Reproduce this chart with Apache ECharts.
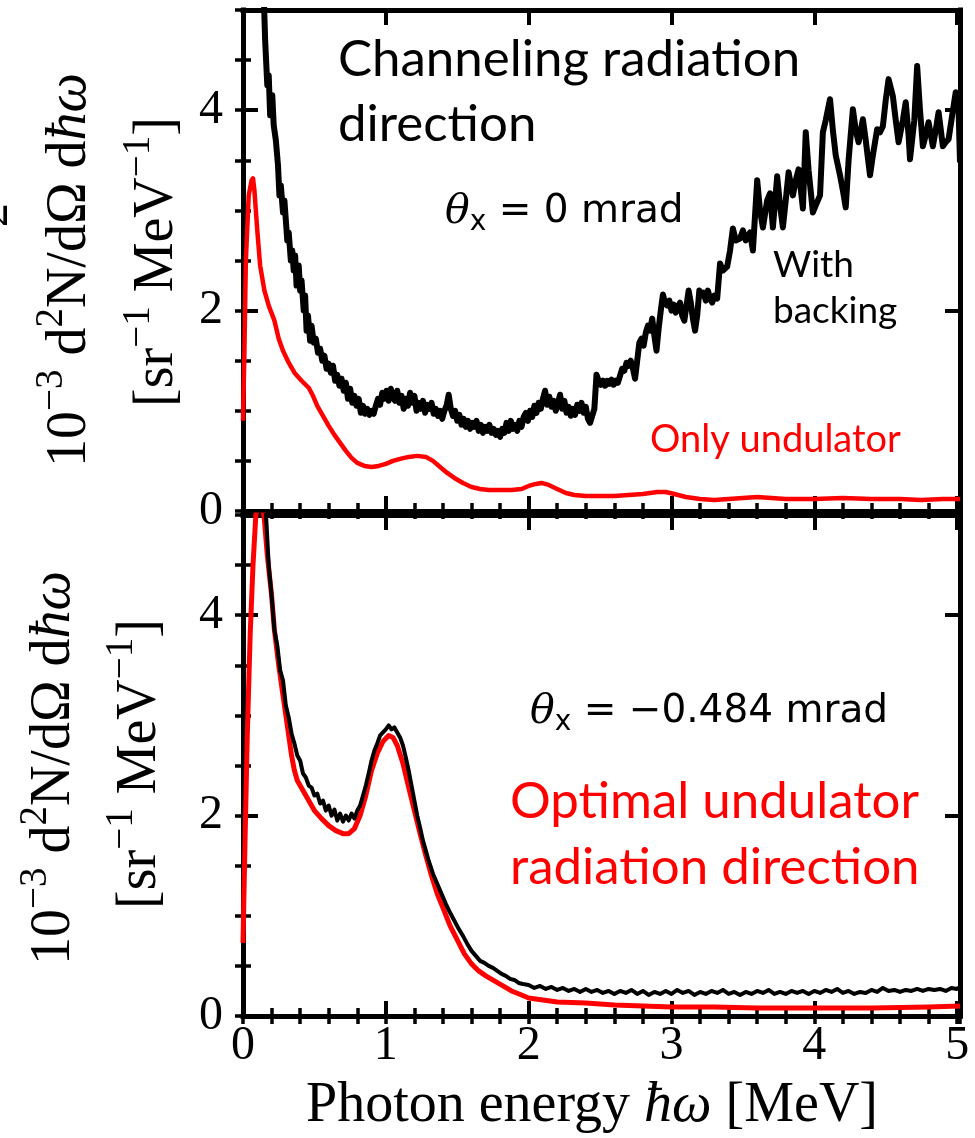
<!DOCTYPE html>
<html>
<head>
<meta charset="utf-8">
<script src="https://cdn.jsdelivr.net/npm/echarts@6/dist/echarts.min.js"></script>
<style>
html,body{margin:0;padding:0;background:#fff;}
#chart{width:975px;height:1138px;}
</style>
</head>
<body>
<div id="chart"></div>
<script>
// ---------- axis settings ----------
const X_MIN = 0, X_MAX = 5.02;
const Y_MIN = 0, Y_MAX = 5;
const xMajorStep = 1, xMinorStep = 0.2;
const yMajorStep = 2, yMinorStep = 0.5;
const xTickLabels = ['0', '1', '2', '3', '4', '5'];
const yTickLabels = ['0', '2', '4'];

// ---------- top panel: theta_x = 0 mrad ----------
const topOnlyUndulator = [
  [0.0,0.9],[0.01,1.6],[0.02,2.5],[0.04,3.15],[0.06,3.3],[0.07,3.32],[0.08,3.2],[0.10,2.8],[0.12,2.45],
  [0.15,2.2],[0.18,2.05],[0.22,1.9],[0.25,1.72],[0.28,1.6],[0.32,1.48],[0.36,1.38],[0.41,1.3],[0.46,1.23],
  [0.49,1.15],[0.52,1.05],[0.56,0.95],[0.60,0.85],[0.64,0.76],[0.68,0.68],[0.72,0.6],[0.76,0.53],[0.80,0.48],
  [0.85,0.45],[0.90,0.44],[0.95,0.45],[1.0,0.47],[1.05,0.5],[1.10,0.52],[1.16,0.54],[1.22,0.55],[1.28,0.54],
  [1.33,0.5],[1.38,0.44],[1.43,0.38],[1.48,0.33],[1.54,0.28],[1.60,0.24],[1.66,0.22],[1.72,0.21],[1.80,0.21],
  [1.88,0.21],[1.95,0.22],[2.0,0.25],[2.05,0.27],[2.09,0.28],[2.14,0.26],[2.2,0.22],[2.26,0.18],[2.32,0.16],
  [2.4,0.15],[2.5,0.15],[2.6,0.15],[2.7,0.16],[2.8,0.17],[2.9,0.19],[2.96,0.19],[3.02,0.17],[3.1,0.14],
  [3.2,0.12],[3.3,0.11],[3.4,0.12],[3.5,0.13],[3.6,0.14],[3.7,0.13],[3.8,0.12],[4.0,0.12],[4.2,0.13],
  [4.4,0.12],[4.6,0.12],[4.75,0.11],[4.9,0.12],[5.02,0.12]
];
const topWithBacking = [
  [0.14,5.4],[0.155,4.7],[0.17,4.25],[0.18,4.35],[0.19,3.95],[0.205,4.15],[0.215,3.85],[0.23,3.7],[0.245,3.45],
  [0.255,3.15],[0.265,3.25],[0.28,2.98],[0.29,3.1],[0.30,2.9],[0.31,2.7],[0.32,2.78],[0.335,2.5],[0.345,2.6],
  [0.355,2.4],[0.365,2.55],[0.375,2.25],[0.39,2.45],[0.40,2.2],[0.41,2.3],[0.425,2.0],[0.435,2.15],[0.445,1.8],
  [0.455,1.95],[0.47,1.7],[0.48,1.85],[0.495,1.68],[0.51,1.72],[0.525,1.58],[0.54,1.62],[0.555,1.5],[0.57,1.55],
  [0.585,1.42],[0.60,1.47],[0.615,1.38],[0.63,1.45],[0.645,1.3],[0.66,1.36],[0.675,1.25],[0.69,1.32],[0.705,1.2],
  [0.72,1.28],[0.735,1.12],[0.75,1.22],[0.765,1.08],[0.78,1.15],[0.795,1.05],[0.81,1.12],[0.825,0.98],[0.84,1.05],
  [0.855,0.97],[0.87,1.02],[0.885,0.96],[0.90,1.0],[0.915,0.97],[0.93,1.05],[0.945,1.12],[0.96,1.06],[0.975,1.18],
  [0.99,1.12],[1.005,1.2],[1.02,1.1],[1.035,1.22],[1.05,1.14],[1.065,1.1],[1.08,1.2],[1.095,1.08],[1.11,1.15],
  [1.125,1.02],[1.14,1.12],[1.155,1.05],[1.17,1.18],[1.185,1.08],[1.20,1.15],[1.215,1.0],[1.23,1.08],[1.245,1.02],
  [1.26,1.1],[1.275,0.98],[1.29,1.06],[1.305,1.02],[1.32,1.08],[1.335,0.97],[1.35,1.02],[1.365,0.95],[1.38,1.0],
  [1.395,0.92],[1.41,1.0],[1.425,1.05],[1.44,1.16],[1.455,1.02],[1.47,0.95],[1.485,1.0],[1.50,0.9],[1.515,0.96],
  [1.53,0.86],[1.545,0.92],[1.56,0.84],[1.575,0.9],[1.59,0.82],[1.605,0.88],[1.62,0.84],[1.635,0.9],[1.65,0.8],
  [1.665,0.86],[1.68,0.78],[1.695,0.84],[1.71,0.8],[1.725,0.86],[1.74,0.78],[1.755,0.82],[1.77,0.76],[1.785,0.8],
  [1.80,0.74],[1.815,0.82],[1.83,0.78],[1.845,0.88],[1.86,0.8],[1.875,0.9],[1.89,0.82],[1.905,0.86],[1.92,0.8],
  [1.935,0.9],[1.95,0.84],[1.965,0.94],[1.98,0.98],[1.995,0.9],[2.01,1.0],[2.025,0.94],[2.04,1.05],[2.055,0.98],
  [2.07,1.08],[2.085,1.02],[2.10,1.12],[2.115,1.2],[2.13,1.06],[2.145,1.14],[2.16,1.04],[2.175,1.1],[2.19,1.0],
  [2.205,1.08],[2.22,1.16],[2.235,1.02],[2.25,1.1],[2.265,0.98],[2.28,1.04],[2.295,0.95],[2.31,1.02],[2.325,0.96],
  [2.34,1.06],[2.355,1.0],[2.37,1.08],[2.385,0.98],[2.40,1.04],[2.415,0.92],[2.43,0.88],[2.445,0.95],[2.46,1.02],
  [2.475,1.36],[2.49,1.3],[2.505,1.26],[2.52,1.3],[2.535,1.25],[2.55,1.3],[2.565,1.27],[2.58,1.31],[2.595,1.26],
  [2.61,1.3],[2.625,1.28],[2.64,1.35],[2.655,1.42],[2.67,1.4],[2.685,1.48],[2.70,1.45],[2.715,1.5],[2.73,1.42],
  [2.745,1.32],[2.76,1.5],[2.775,1.68],[2.79,1.72],[2.805,1.65],[2.82,1.78],[2.835,1.85],[2.85,1.8],[2.865,1.92],
  [2.88,1.75],[2.895,1.6],[2.91,1.82],[2.925,2.0],[2.94,2.16],[2.955,2.08],[2.97,2.05],[2.985,2.1],[3.00,2.0],
  [3.015,2.06],[3.03,1.98],[3.045,2.04],[3.06,2.08],[3.075,1.95],[3.09,1.9],[3.105,2.05],[3.12,2.2],[3.135,2.08],
  [3.15,1.92],[3.165,1.8],[3.18,1.95],[3.195,2.2],[3.21,2.15],[3.225,2.18],[3.24,2.1],[3.255,2.2],[3.27,2.12],
  [3.285,2.08],[3.30,2.15],[3.32,2.12],[3.34,2.47],[3.36,2.4],[3.39,2.44],[3.41,2.6],[3.43,2.82],[3.45,2.7],
  [3.48,2.72],[3.50,2.8],[3.52,2.7],[3.55,2.78],[3.57,2.6],[3.60,3.3],[3.62,3.0],[3.64,2.83],[3.67,3.1],
  [3.69,3.17],[3.71,2.83],[3.74,3.34],[3.76,3.05],[3.78,2.83],[3.80,3.1],[3.82,3.38],[3.85,3.15],[3.87,3.3],
  [3.89,3.41],[3.92,3.02],[3.94,3.78],[3.96,3.4],[3.99,2.98],[4.01,3.05],[4.04,3.15],[4.06,3.78],[4.08,3.9],
  [4.11,4.11],[4.13,3.8],[4.15,3.55],[4.18,3.35],[4.20,3.2],[4.22,3.03],[4.24,3.5],[4.27,4.01],[4.29,3.8],
  [4.31,3.68],[4.34,3.91],[4.36,3.7],[4.39,3.35],[4.41,3.55],[4.44,3.81],[4.46,3.78],[4.48,3.84],[4.50,4.1],
  [4.52,4.31],[4.55,4.14],[4.57,3.9],[4.59,3.68],[4.62,3.9],[4.64,4.08],[4.66,3.75],[4.67,3.51],[4.70,3.9],
  [4.72,4.44],[4.74,4.0],[4.76,3.64],[4.78,3.75],[4.80,3.88],[4.83,3.64],[4.85,3.8],[4.87,3.98],[4.90,3.64],
  [4.92,3.68],[4.94,3.71],[4.96,3.9],[4.99,4.18],[5.01,4.01],[5.02,3.48]
];

// ---------- bottom panel: theta_x = -0.484 mrad ----------
const bottomOnlyUndulator = [
  [0.0,0.73],[0.015,1.8],[0.03,2.8],[0.05,3.8],[0.07,4.5],[0.09,5.0],[0.11,5.15],[0.13,5.15],[0.15,4.95],
  [0.17,4.6],[0.20,4.2],[0.22,3.85],[0.25,3.5],[0.27,3.3],[0.30,3.0],[0.32,2.8],[0.34,2.6],[0.36,2.45],
  [0.38,2.35],[0.42,2.25],[0.46,2.15],[0.50,2.05],[0.55,1.97],[0.60,1.9],[0.65,1.85],[0.70,1.82],[0.74,1.82],
  [0.78,1.87],[0.82,2.0],[0.86,2.2],[0.90,2.45],[0.94,2.62],[0.98,2.74],[1.02,2.8],[1.05,2.78],[1.08,2.7],
  [1.12,2.52],[1.16,2.28],[1.20,2.05],[1.24,1.82],[1.28,1.6],[1.32,1.4],[1.36,1.22],[1.40,1.08],[1.45,0.9],
  [1.50,0.76],[1.55,0.62],[1.60,0.52],[1.65,0.45],[1.70,0.4],[1.76,0.35],[1.82,0.3],[1.88,0.25],[1.95,0.21],
  [2.0,0.18],[2.1,0.16],[2.2,0.14],[2.4,0.13],[2.6,0.11],[2.8,0.10],[3.0,0.09],[3.3,0.09],[3.6,0.08],
  [4.0,0.08],[4.4,0.08],[4.8,0.09],[5.02,0.10]
];
const bottomWithBacking = [
  [0.15,5.3],[0.18,4.5],[0.20,4.2],[0.22,3.85],[0.24,3.7],[0.26,3.45],[0.28,3.35],[0.30,3.1],[0.32,2.98],
  [0.34,2.82],[0.36,2.72],[0.38,2.6],[0.40,2.55],[0.42,2.42],[0.44,2.38],[0.46,2.3],[0.48,2.28],[0.50,2.2],
  [0.52,2.22],[0.54,2.12],[0.56,2.15],[0.58,2.05],[0.60,2.1],[0.62,2.0],[0.64,2.06],[0.66,1.95],[0.68,2.02],
  [0.70,1.94],[0.72,2.0],[0.74,1.95],[0.76,2.02],[0.78,1.97],[0.80,2.05],[0.82,2.1],[0.84,2.2],[0.86,2.3],
  [0.88,2.42],[0.90,2.55],[0.92,2.65],[0.94,2.72],[0.96,2.8],[0.98,2.83],[1.0,2.86],[1.02,2.9],[1.04,2.86],
  [1.06,2.88],[1.08,2.83],[1.10,2.78],[1.12,2.7],[1.14,2.58],[1.16,2.45],[1.18,2.3],[1.20,2.15],[1.22,2.0],
  [1.24,1.88],[1.26,1.75],[1.28,1.65],[1.30,1.55],[1.33,1.42],[1.36,1.32],[1.39,1.22],[1.42,1.12],[1.45,1.03],
  [1.48,0.95],[1.51,0.87],[1.54,0.8],[1.57,0.72],[1.60,0.65],[1.63,0.6],[1.66,0.55],[1.69,0.53],[1.72,0.5],
  [1.75,0.48],[1.78,0.45],[1.81,0.42],[1.84,0.40],[1.87,0.37],[1.90,0.36],[1.93,0.33],[1.96,0.32],
  [2.00,0.31],[2.04,0.28],[2.08,0.30],[2.12,0.27],[2.16,0.29],[2.20,0.26],[2.24,0.28],[2.28,0.25],[2.32,0.27],
  [2.36,0.24],[2.40,0.27],[2.44,0.24],[2.48,0.26],[2.52,0.23],[2.56,0.25],[2.60,0.22],[2.64,0.25],[2.68,0.23],
  [2.72,0.26],[2.76,0.22],[2.80,0.25],[2.84,0.21],[2.88,0.24],[2.92,0.22],[2.96,0.25],[3.00,0.22],[3.04,0.26],
  [3.08,0.23],[3.12,0.25],[3.16,0.21],[3.20,0.24],[3.24,0.22],[3.28,0.25],[3.32,0.23],[3.36,0.26],[3.40,0.22],
  [3.44,0.24],[3.48,0.21],[3.52,0.24],[3.56,0.22],[3.60,0.25],[3.64,0.23],[3.68,0.26],[3.72,0.22],[3.76,0.24],
  [3.80,0.22],[3.84,0.25],[3.88,0.23],[3.92,0.25],[3.96,0.22],[4.00,0.25],[4.04,0.23],[4.08,0.26],[4.12,0.24],
  [4.16,0.27],[4.20,0.23],[4.24,0.25],[4.28,0.22],[4.32,0.24],[4.36,0.23],[4.40,0.26],[4.44,0.24],[4.48,0.28],
  [4.52,0.25],[4.56,0.26],[4.60,0.24],[4.64,0.26],[4.68,0.25],[4.72,0.27],[4.76,0.25],[4.80,0.27],[4.84,0.26],
  [4.88,0.27],[4.92,0.25],[4.96,0.28],[5.00,0.27],[5.02,0.29]
];

// ---------- build chart ----------
const BLACK = '#000000', RED = '#ff0000';
const SERIF = 'Liberation Serif';
const grids = [
  {left: 243, top: 10, width: 717, height: 501},
  {left: 243, top: 515, width: 717, height: 501}
];

function lineAxis(show) {
  return {show: show, onZero: false, lineStyle: {color: BLACK, width: 5, cap: 'square'}};
}
function majorTick() { return {show: true, inside: true, length: 15, lineStyle: {color: BLACK, width: 4}}; }
function minorTickS() { return {show: true, inside: true, length: 8, lineStyle: {color: BLACK, width: 3.5}}; }

function xAxesFor(g, withLabels) {
  const base = {gridIndex: g, type: 'value', min: X_MIN, max: X_MAX, splitLine: {show: false}};
  return [
    Object.assign({}, base, {position: 'bottom', interval: xMajorStep, axisLine: lineAxis(true), axisTick: majorTick(),
      axisLabel: {show: withLabels, margin: 6, fontFamily: SERIF, fontSize: 48, color: BLACK,
        formatter: v => { const s = String(Math.round(v)); return (Math.abs(v - Math.round(v)) < 1e-6 && xTickLabels.includes(s)) ? s : ''; }}}),
    Object.assign({}, base, {position: 'bottom', interval: xMinorStep, axisLine: {show: false}, axisTick: minorTickS(), axisLabel: {show: false}}),
    Object.assign({}, base, {position: 'top', interval: xMajorStep, axisLine: lineAxis(true), axisTick: majorTick(), axisLabel: {show: false}}),
    Object.assign({}, base, {position: 'top', interval: xMinorStep, axisLine: {show: false}, axisTick: minorTickS(), axisLabel: {show: false}})
  ];
}
function yAxesFor(g) {
  const base = {gridIndex: g, type: 'value', min: Y_MIN, max: Y_MAX, splitLine: {show: false}};
  return [
    Object.assign({}, base, {position: 'left', interval: yMajorStep, axisLine: lineAxis(true), axisTick: majorTick(),
      axisLabel: {show: true, margin: 20, fontFamily: SERIF, fontSize: 48, color: BLACK,
        formatter: v => { const s = String(Math.round(v)); return yTickLabels.includes(s) && Math.abs(v - Math.round(v)) < 1e-6 ? s : ''; }}}),
    Object.assign({}, base, {position: 'left', interval: yMinorStep, axisLine: {show: false}, axisTick: minorTickS(), axisLabel: {show: false}}),
    Object.assign({}, base, {position: 'right', interval: yMajorStep, axisLine: lineAxis(true), axisTick: majorTick(), axisLabel: {show: false}}),
    Object.assign({}, base, {position: 'right', interval: yMinorStep, axisLine: {show: false}, axisTick: minorTickS(), axisLabel: {show: false}})
  ];
}

function lineSeries(data, g, color, width, z) {
  return {type: 'line', xAxisIndex: g * 4, yAxisIndex: g * 4, data: data, showSymbol: false, symbol: 'none',
    clip: true, smooth: false, z: z, animation: false,
    lineStyle: {color: color, width: width, join: 'round'}};
}

const supStyle = {fontFamily: SERIF, fontSize: 39, lineHeight: 39, verticalAlign: 'top', fill: BLACK};
const mainStyle = {fontFamily: SERIF, fontSize: 56, lineHeight: 76, fill: BLACK};
const italStyle = {fontFamily: SERIF, fontSize: 56, lineHeight: 76, fontStyle: 'italic', fill: BLACK};
const yRich = {n: mainStyle, s: supStyle, i: italStyle};
const yLine1 = '{n|10}{s|−3}{n| d}{s|2}{n|N/dΩ d}{i|ħω}';
const yLine2 = '{n|[sr}{s|−1}{n| MeV}{s|−1}{n|]}';

function rotText(x, y, text) {
  return {type: 'text', x: x, y: y, rotation: Math.PI / 2, z: 10,
    style: {text: text, rich: yRich, align: 'center', verticalAlign: 'middle', fill: BLACK, fontFamily: SERIF, fontSize: 56}};
}
function plainText(x, y, text, size, color, family) {
  return {type: 'text', x: x, y: y, z: 10,
    style: {text: text, fontFamily: family || 'Lato', fontSize: size, fill: color, align: 'left', verticalAlign: 'middle'}};
}
const thetaRich = {
  th: {fontFamily: 'DejaVu Serif', fontStyle: 'italic', fontSize: 41, lineHeight: 50, fill: BLACK},
  sub: {fontFamily: 'DejaVu Sans', fontSize: 28, lineHeight: 22, verticalAlign: 'bottom', fill: BLACK},
  t: {fontFamily: 'DejaVu Sans', fontSize: 39, lineHeight: 50, fill: BLACK}
};
function thetaText(x, y, rest) {
  return {type: 'text', x: x, y: y, z: 10,
    style: {text: '{th|θ}{sub|x}{t| = ' + rest + '}', rich: thetaRich, align: 'left', verticalAlign: 'middle'}};
}

const option = {
  backgroundColor: '#ffffff',
  animation: false,
  grid: grids,
  xAxis: xAxesFor(0, false).concat(xAxesFor(1, true)),
  yAxis: yAxesFor(0).concat(yAxesFor(1)),
  series: [
    lineSeries(topOnlyUndulator, 0, RED, 4.5, 2),
    lineSeries(topWithBacking, 0, BLACK, 6, 3),
    lineSeries(bottomOnlyUndulator, 1, RED, 5, 2),
    lineSeries(bottomWithBacking, 1, BLACK, 4, 3)
  ],
  graphic: [
    rotText(70, 270, yLine1),
    rotText(157, 262, yLine2),
    rotText(54, 768, yLine1),
    rotText(140, 764, yLine2),
    {type: 'text', x: -6, y: 215, rotation: Math.PI / 2, z: 10,
      style: {text: '2', fontFamily: SERIF, fontSize: 48, fill: BLACK, align: 'center', verticalAlign: 'middle'}},
    {type: 'text', x: 592, y: 1106, z: 10,
      style: {text: '{n|Photon energy }{i|ħω}{n| [MeV]}', align: 'center', verticalAlign: 'middle',
        rich: {n: {fontFamily: SERIF, fontSize: 56, fill: BLACK}, i: {fontFamily: SERIF, fontSize: 56, fontStyle: 'italic', fill: BLACK}}}},
    plainText(338, 60, 'Channeling radiation', 51, BLACK),
    plainText(338, 125, 'direction', 51, BLACK),
    thetaText(445, 212, '0 mrad'),
    plainText(773, 265, 'With', 37, BLACK),
    plainText(773, 311, 'backing', 37, BLACK),
    plainText(650, 440, 'Only undulator', 38, RED),
    thetaText(530, 712, '−0.484 mrad'),
    plainText(510, 802, 'Optimal undulator', 51, RED),
    plainText(510, 868, 'radiation direction', 51, RED)
  ]
};

const chart = echarts.init(document.getElementById('chart'), null, {renderer: 'canvas'});
chart.setOption(option);
</script>
</body>
</html>
